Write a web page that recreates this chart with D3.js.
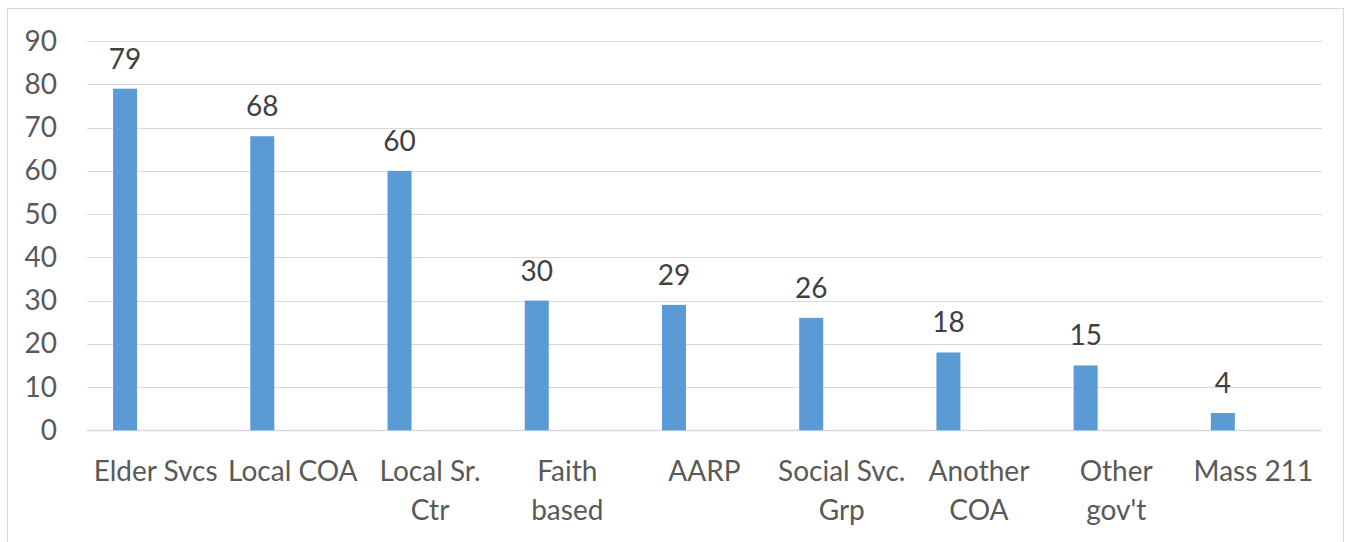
<!DOCTYPE html>
<html>
<head>
<meta charset="utf-8">
<script src="https://cdn.jsdelivr.net/npm/d3@7"></script>
<style>
  html, body { margin: 0; padding: 0; background: #fff; }
  svg { display: block; }
  text { font-family: Lato, "Open Sans", sans-serif; }
</style>
</head>
<body>
<svg id="chart" width="1352" height="542"></svg>
<script>
const categories = ["Elder Svcs", "Local COA", "Local Sr. Ctr", "Faith based", "AARP", "Social Svc. Grp", "Another COA", "Other gov't", "Mass 211"];
const categoryLines = [["Elder Svcs"], ["Local COA"], ["Local Sr.", "Ctr"], ["Faith", "based"], ["AARP"], ["Social Svc.", "Grp"], ["Another", "COA"], ["Other", "gov't"], ["Mass 211"]];
const values = [79, 68, 60, 30, 29, 26, 18, 15, 4];
const yTicks = [0, 10, 20, 30, 40, 50, 60, 70, 80, 90];

const svg = d3.select("#chart");
const plot = { left: 87, right: 1322, top: 41.1, bottom: 430.3 };
const fs = 28;

// chart border
svg.append("rect")
  .attr("x", 7.5).attr("y", 8.5)
  .attr("width", 1336).attr("height", 560)
  .attr("fill", "none").attr("stroke", "#d9d9d9").attr("stroke-width", 1);

const x = d3.scaleBand().domain(categories).range([plot.left, plot.right]).padding(0);
const y = d3.scaleLinear().domain([0, 90]).range([plot.bottom, plot.top]);

// gridlines
svg.append("g").selectAll("line").data(yTicks).join("line")
  .attr("x1", plot.left).attr("x2", plot.right)
  .attr("y1", d => Math.round(y(d)) + 0.5).attr("y2", d => Math.round(y(d)) + 0.5)
  .attr("stroke", "#d9d9d9").attr("stroke-width", d => d === 0 ? 1.5 : 1.2);

// y axis labels
const yAxis = d3.axisLeft(y).tickValues(yTicks).tickSize(0).tickPadding(0);
const yg = svg.append("g").attr("transform", `translate(57,0)`).call(yAxis);
yg.select(".domain").remove();
yg.selectAll("text")
  .attr("font-family", "Lato, 'Open Sans', sans-serif")
  .attr("font-size", fs).attr("fill", "#595959").attr("x", 0);

// bars (first series slot within the category group)
const bw = x.bandwidth();
const barOffset = bw * 0.19;
const barWidth = bw * 0.175;
svg.append("g").selectAll("rect").data(values).join("rect")
  .attr("x", (d, i) => x(categories[i]) + barOffset)
  .attr("width", barWidth)
  .attr("y", d => y(d))
  .attr("height", d => y(0) - y(d))
  .attr("fill", "#5b9bd5");

// data labels
svg.append("g").selectAll("text").data(values).join("text")
  .attr("x", (d, i) => x(categories[i]) + barOffset + barWidth / 2)
  .attr("y", d => y(d) - 20)
  .attr("text-anchor", "middle")
  .attr("font-size", fs).attr("fill", "#404040")
  .text(d => d);

// category labels
const cg = svg.append("g").selectAll("text").data(categories).join("text")
  .attr("text-anchor", "middle")
  .attr("font-size", fs).attr("fill", "#595959")
  .attr("transform", d => `translate(${x(d) + bw / 2},0)`);
cg.each(function(d, i) {
  const t = d3.select(this);
  categoryLines[i].forEach((line, j) => {
    t.append("tspan").attr("x", 0).attr("y", 481 + j * 39).text(line);
  });
});
</script>
</body>
</html>
